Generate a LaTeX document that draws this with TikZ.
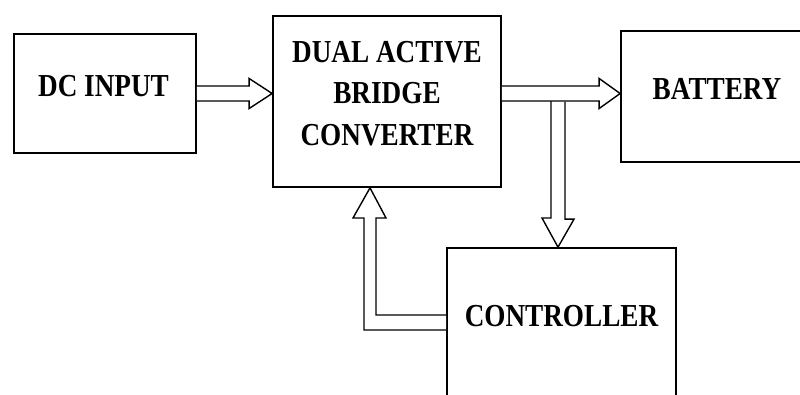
\documentclass[tikz,border=0pt]{standalone}
\usepackage{fontspec}
\setmainfont[FakeStretch=0.85]{Liberation Serif}
\usepackage{tikz}
\usetikzlibrary{calc}

\begin{document}
\begin{tikzpicture}[
  x=1pt,y=-1pt,
  blk/.style={draw=black,line width=1.7pt,inner sep=0pt},
  lbl/.style={font=\fontsize{32}{41.5}\selectfont\bfseries,align=center,inner sep=0pt},
  hol/.style={draw=black,line width=1.4pt,fill=white,line join=miter}]
  \useasboundingbox (0,0) rectangle (800,394);
  \clip (0,0) rectangle (800,394);
  % blocks
  \node[blk,minimum width=182pt,minimum height=119pt] (dc) at (105,93.5) {};
  \node[blk,minimum width=228pt,minimum height=171pt] (dab) at (387,101.5) {};
  \node[blk,minimum width=192pt,minimum height=131pt] (bat) at (717,96.5) {};
  \node[blk,minimum width=229pt,minimum height=172pt] (ctl) at (561.5,334) {};
  % labels
  \node[lbl,anchor=base] (dc-t) at (103.5,96.5) {DC INPUT};
  \node[lbl] (dab-t) at (387,93.5) {DUAL ACTIVE\\BRIDGE\\CONVERTER};
  \node[lbl,anchor=base] (bat-t) at (717,99) {BATTERY};
  \node[lbl,anchor=base] (ctl-t) at (561.5,326) {CONTROLLER};
  % hollow arrows
  \coordinate (tap) at (558,100.5);
  \draw[hol] (tap) ++(-7,0) -- ++(0,117.5) -- ++(-9,0) -- (ctl.north -| tap) -- ++(16,-28) -- ++(-9,0) -- ++(0,-117.5);
  \draw[hol] ($(dc.east)+(0,-7.5)$) -- ($(dab.west|-dc.east)+(-23,-7.5)$) -- ++(0,-7.5)
    -- (dab.west|-dc.east) -- ++(-23,15) -- ++(0,-7.5) -- ($(dc.east)+(0,7.5)$);
  \draw[hol] ($(dab.east|-dc.east)+(0,-7.5)$) -- ($(bat.west|-dc.east)+(-21,-7.5)$) -- ++(0,-7.5)
    -- (bat.west|-dc.east) -- ++(-21,15) -- ++(0,-7.5) -- ($(dab.east|-dc.east)+(0,7.5)$);
  \draw[hol] ($(ctl.west)+(0,-19)$) coordinate (c1) -- (c1 -| 376,0) -- (376,218) -- (386,218)
    -- (dab.south -| 370,0) -- (353,218) -- (364,218) -- (364,330) -- (ctl.west |- 0,330);
\end{tikzpicture}
\end{document}
